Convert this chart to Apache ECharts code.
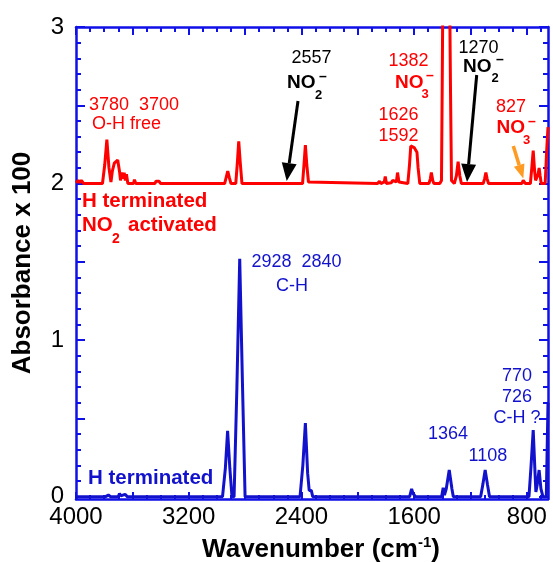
<!DOCTYPE html>
<html><head><meta charset="utf-8">
<script src="https://cdn.jsdelivr.net/npm/echarts@6/dist/echarts.min.js"></script>
<style>html,body{margin:0;padding:0;background:#fff}#c{width:553px;height:562px}</style>
</head><body><div id="c"></div>
<script>
// ---- data (wavenumber in cm-1, absorbance x 100) ----
const xTickLabels = [4000, 3200, 2400, 1600, 800];
const yTickLabels = [0, 1, 2, 3];

// H terminated (blue)
const hWavenumber = [4000,3790,3770,3762,3754,3700,3691,3682,3652,3644,3636,
  2960,2940,2924,2908,2893,2878,2858,2838,2818,2800,
  2410,2390,2372,2356,2345,2330,2320,
  1632,1618,1608,1599,1590,
  1405,1394,1385,1372,1351,1332,1322,
  1128,1112,1096,1080,1065,
  785,770,755,742,736,726,713,700,686,662,650];
const hAbsorbance = [0,0,0.01,0.02,0,0,0.02,0.005,0.015,0.02,0,
  0,0.18,0.42,0.18,0,0,0.7,1.52,0.7,0,
  0,0.2,0.47,0.15,0.04,0.04,0,
  0,0.05,0.02,0.025,0,
  0,0.056,0.01,0.05,0.17,0.05,0,
  0,0.08,0.17,0.08,0,
  0,0.2,0.425,0.15,0.03,0.08,0.17,0.05,0,0,0.6];

// H terminated, NO2 activated (red), drawn with an offset of 2
const nOffset = 2;
const nWavenumber = [4000,3990,3982,3975,3962,3955,3945,3812,3796,3781,3766,3752,3742,3728,3718,3704,3690,3684,3674,3666,3658,3650,3642,3632,3592,3585,3576,3440,3432,3420,3410,3400,
  2945,2934,2923,2912,2900,2866,2855,2845,2834,2822,
  2392,2382,2372,2362,2350,2340,
  1860,1846,1836,1812,1805,1797,1762,1753,1745,1726,1718,1708,1700,
  1645,1633,1624,1610,1600,1592,1580,1572,1560,
  1495,1485,1478,1468,1460,
  1418,1406,1401,1395,1350,1342,1335,
  1315,1300,1288,1276,1265,
  1110,1100,1091,1082,1072,
  835,826,818,810,775,765,755,745,738,728,720,713,706,698,670,660,650];
const nAbsorbance = [0.005,0,0.02,0.005,0.02,0.02,0,0,0.12,0.28,0.1,0.01,0.08,0.13,0.12,0.15,0.07,0.02,0.07,0.03,0.07,0.02,0.06,0,0,0.025,0,0,0.015,0.01,0.015,0,
  0,0.04,0.08,0.04,0,0,0.13,0.27,0.13,0,
  0,0.12,0.245,0.12,0.01,0,
  0,0.015,0,0.01,0.045,0,0.005,0.02,0.01,0.01,0.07,0.01,0,
  0,0.12,0.24,0.235,0.23,0.24,0.2,0.1,0,
  0,0.03,0.07,0.02,0,
  0,0.02,0.6,1.4,1.4,0.6,0.02,
  0,0.05,0.14,0.05,0,
  0,0.03,0.07,0.03,0,
  0,0.02,0.015,0,0,0.1,0.21,0.08,0.02,0.02,0.06,0.1,0.05,0,0,0.2,0.36];

// ---- build ----
const FF = '"Liberation Sans", Arial, sans-serif';
const AX = '#1010e8';
const BLUE = '#1212cc';
const RED = '#ff0000';
const xMin = 650, xMax = 4000, yMin = -0.015, yMax = 3;

const xMajor = [], xMinor = [], yMajor = [], yMinor = [];
for (let v = 800; v <= 4000; v += 400) xMajor.push(v);
for (let v = 700; v <= 4000; v += 100) xMinor.push(v);
for (let i = 0; i <= 6; i++) yMajor.push(i * 0.5);
for (let i = 0; i <= 30; i++) yMinor.push(+(i * 0.1).toFixed(1));

function xAx(pos, ticks, len, line, labels) {
  return {type:'value', position:pos, inverse:true, min:xMin, max:xMax,
    axisLine:{show:line, onZero:false, lineStyle:{color:AX, width:2.5}},
    axisTick:{show:true, inside:true, length:len, customValues:ticks, lineStyle:{color:AX, width:2}},
    axisLabel: labels ? {show:true, customValues:labels, formatter:function (v) { return String(v); },
      color:'#000', fontSize:24, fontFamily:FF, margin:6} : {show:false},
    splitLine:{show:false}};
}
function yAx(pos, ticks, len, line, labels) {
  return {type:'value', position:pos, min:yMin, max:yMax,
    axisLine:{show:line, onZero:false, lineStyle:{color:AX, width:2.5}},
    axisTick:{show:true, inside:true, length:len, customValues:ticks, lineStyle:{color:AX, width:2}},
    axisLabel: labels ? {show:true, customValues:labels, formatter:function (v) { return String(v); },
      color:'#000', fontSize:24, fontFamily:FF, margin:12} : {show:false},
    splitLine:{show:false}};
}

function T(x, y, text, o) {
  o = o || {};
  return {type:'text', x:x, y:y, z:100,
    style:{text:text, fill:o.c || '#000', fontSize:o.s || 18, fontWeight:o.b ? 'bold' : 'normal', fontFamily:FF,
      align:o.a || 'left', verticalAlign:'middle', textAlign:o.a || 'left', textVerticalAlign:'middle'}};
}
function arrow(x1, y1, x2, y2, color, w, hl, hw) {
  const a = Math.atan2(y2 - y1, x2 - x1);
  const bx = x2 - hl * Math.cos(a), by = y2 - hl * Math.sin(a);
  const px = -Math.sin(a) * hw / 2, py = Math.cos(a) * hw / 2;
  return [
    {type:'line', z:100, shape:{x1:x1, y1:y1, x2:bx, y2:by}, style:{stroke:color, lineWidth:w}},
    {type:'polygon', z:100, shape:{points:[[x2, y2], [bx + px, by + py], [bx - px, by - py]]}, style:{fill:color}}
  ];
}

const graphics = [
  // red annotations
  T(89, 105, '3780  3700', {c:RED}),
  T(92, 124, 'O-H free', {c:RED}),
  T(82, 201, 'H terminated', {c:RED, b:true, s:20.5}),
  T(82, 225, 'NO', {c:RED, b:true, s:20.5}),
  T(112, 239, '2', {c:RED, b:true, s:14}),
  T(128, 225, 'activated', {c:RED, b:true, s:20.5}),
  T(291.5, 58, '2557'),
  T(287, 83, 'NO', {b:true, s:19}),
  T(315, 95, '2', {b:true, s:13}),
  T(319, 77, '\u2013', {b:true, s:14}),
  T(388.5, 61, '1382', {c:RED}),
  T(395, 83, 'NO', {c:RED, b:true, s:19}),
  T(421.5, 94, '3', {c:RED, b:true, s:13}),
  T(426, 76, '\u2013', {c:RED, b:true, s:14}),
  T(378.5, 115, '1626', {c:RED}),
  T(378.5, 136, '1592', {c:RED}),
  T(458.5, 48, '1270'),
  T(463, 67, 'NO', {b:true, s:19}),
  T(491.5, 78, '2', {b:true, s:13}),
  T(496, 60, '\u2013', {b:true, s:14}),
  T(496, 107, '827', {c:RED}),
  T(496.5, 128, 'NO', {c:RED, b:true, s:19}),
  T(523, 140, '3', {c:RED, b:true, s:13}),
  T(528, 122, '\u2013', {c:RED, b:true, s:14}),
  // blue annotations
  T(251.5, 262.5, '2928  2840', {c:BLUE}),
  T(276, 286, 'C-H', {c:BLUE}),
  T(88, 478, 'H terminated', {c:BLUE, b:true, s:20.5}),
  T(448, 434, '1364', {c:BLUE, a:'center'}),
  T(468.5, 456, '1108', {c:BLUE}),
  T(502, 376, '770', {c:BLUE}),
  T(502, 397, '726', {c:BLUE}),
  T(493.5, 418, 'C-H ?', {c:BLUE}),
  // axis titles
  {type:'text', x:23, y:263, rotation:Math.PI / 2, z:100,
    style:{text:'Absorbance x 100', fill:'#000', fontSize:26, fontWeight:'bold', fontFamily:FF,
      align:'center', verticalAlign:'middle', textAlign:'center', textVerticalAlign:'middle'}},
  {type:'text', x:321, y:550, z:100,
    style:{text:'{a|Wavenumber (cm}{s|-1}{a|)}', align:'center', verticalAlign:'middle', textAlign:'center', textVerticalAlign:'middle',
      rich:{a:{fontSize:26, fontWeight:'bold', fontFamily:FF, fill:'#000', lineHeight:30},
            s:{fontSize:15, fontWeight:'bold', fontFamily:FF, fill:'#000', verticalAlign:'top', lineHeight:15}}}}
].concat(
  arrow(298, 101, 286.7, 181, '#000', 3, 18, 15),
  arrow(476.7, 75, 467, 182, '#000', 3, 18, 15),
  arrow(513.3, 146, 523.3, 178.5, '#ff9a22', 3.5, 14, 11)
);

const chart = echarts.init(document.getElementById('c'), null, {renderer:'canvas'});
chart.setOption({
  animation:false,
  backgroundColor:'#fff',
  grid:{left:76, right:5, top:27, bottom:63, containLabel:false},
  xAxis:[
    xAx('bottom', xMajor, 7, true, xTickLabels),
    xAx('bottom', xMinor, 4, false, null),
    xAx('top', xMajor, 8, true, null),
    xAx('top', xMinor, 5, false, null)
  ],
  yAxis:[
    yAx('left', yMajor, 9, true, yTickLabels),
    yAx('left', yMinor, 5, false, null),
    yAx('right', yMajor, 9, true, null),
    yAx('right', yMinor, 5, false, null)
  ],
  series:[
    {type:'line', xAxisIndex:0, yAxisIndex:0, symbol:'none', clip:true, z:5,
      lineStyle:{color:BLUE, width:3}, itemStyle:{color:BLUE},
      data:hWavenumber.map((w, i) => [w, hAbsorbance[i]])},
    {type:'line', xAxisIndex:0, yAxisIndex:0, symbol:'none', clip:true, z:6,
      lineStyle:{color:RED, width:3}, itemStyle:{color:RED},
      data:nWavenumber.map((w, i) => [w, nAbsorbance[i] + nOffset])}
  ],
  graphic:graphics
});
</script></body></html>
